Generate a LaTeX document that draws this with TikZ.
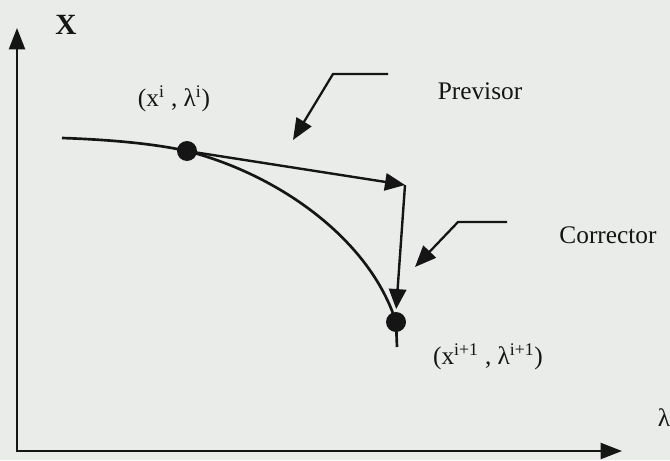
\documentclass[tikz,border=0pt]{standalone}
\usepackage{fontspec}
\setmainfont{Liberation Serif}
\usetikzlibrary{arrows.meta}
\definecolor{scanpaper}{HTML}{E9ECE8}
\definecolor{scanink}{HTML}{151515}
\tikzset{
  axis line/.style={draw=scanink, line width=1.6pt,
    {Triangle[length=16pt,width=12pt]}-{Triangle[length=16pt,width=12pt]}},
  path curve/.style={draw=scanink, line width=2pt},
  step arrow/.style={draw=scanink, line width=1.8pt,
    -{Triangle[length=15pt,width=13pt]}},
  pointer arrow/.style={draw=scanink, line width=1.7pt,
    -{Triangle[length=16pt,width=13pt]}},
  sol point/.style={circle, fill=scanink, inner sep=0pt, minimum size=15pt},
  plot label/.style={font=\fontsize{19}{21}\selectfont, text=scanink,
    inner sep=0pt},
}

\begin{document}
\begin{tikzpicture}[x=0.75pt, y=-0.75pt]
  \fill[scanpaper] (0,0) rectangle (670,460);
  \useasboundingbox (0,0) rectangle (670,460);

  % axes
  \coordinate (origin) at (17,451);
  \coordinate (ytop) at (17,28);
  \coordinate (xend) at (622,451);
  \draw[axis line] (ytop) -- (origin) -- (xend);
  \node[plot label, font=\fontsize{22}{24}\selectfont\bfseries] (xlab) at (66,25) {X};
  \node[plot label] (lamlab) at (664,418) {λ};

  % solution curve
  \node[sol point] (xi) at (187,151) {};
  \node[sol point] (xnext) at (396,322) {};
  \coordinate (cstart) at (62,138);
  \coordinate (cend) at (397,347);
  \draw[path curve] (cstart) .. controls (120,140) and (160,145) .. (xi.center)
    .. controls (280,175) and (370,240) .. (xnext.center) -- (cend);

  % predictor and corrector steps
  \coordinate (pred) at (405,185);
  \draw[step arrow] (xi.center) -- (pred);
  \draw[step arrow, shorten >=2pt] (pred) -- (xnext.north);

  % pointers
  \coordinate (prev a) at (388,74);
  \coordinate (prev b) at (333,74);
  \coordinate (prev tip) at (293,140);
  \draw[pointer arrow] (prev a) -- (prev b) -- (prev tip);
  \coordinate (corr a) at (507,222);
  \coordinate (corr b) at (458,222);
  \coordinate (corr tip) at (415,267);
  \draw[pointer arrow] (corr a) -- (corr b) -- (corr tip);

  \node[plot label] (prevlab) at (480,91) {Previsor};
  \node[plot label] (corrlab) at (608,235) {Corrector};
  \node[plot label] (ilab) at (174,99) {(x\textsuperscript{i} , λ\textsuperscript{i})};
  \node[plot label] (nextlab) at (488,357) {(x\textsuperscript{i+1} , λ\textsuperscript{i+1})};
\end{tikzpicture}
\end{document}
